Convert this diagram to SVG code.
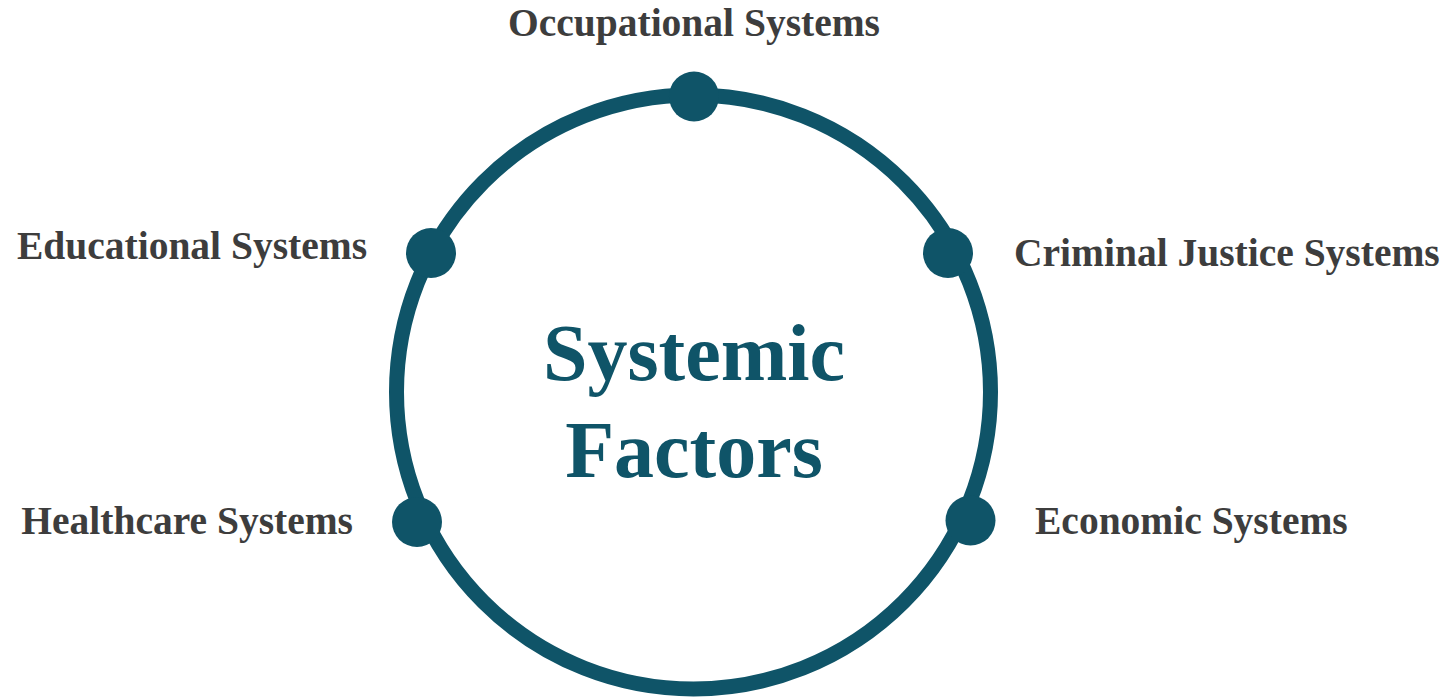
<svg xmlns="http://www.w3.org/2000/svg" width="1455" height="699" viewBox="0 0 1455 699">
<style>
.ring{fill:none;stroke:#0f5468;stroke-width:15}
.dot{fill:#0f5468}
.lbl{font-family:"Liberation Serif","Times New Roman",serif;font-weight:bold;font-size:39.5px;fill:#3d3d3d}
.title{font-family:"Liberation Serif","Times New Roman",serif;font-weight:bold;font-size:80px;fill:#0f5468;text-anchor:middle}
</style>
<rect width="1455" height="699" fill="#ffffff"/>
<g id="connectors">
<circle class="ring" cx="693.5" cy="392" r="297"/>
</g>
<g id="center">
<text class="title" x="694" y="380">Systemic</text>
<text class="title" x="694" y="477">Factors</text>
</g>
<g id="occupational">
<circle class="dot" cx="694" cy="96.5" r="25"/>
<text class="lbl" x="694" y="36" text-anchor="middle">Occupational Systems</text>
</g>
<g id="educational">
<circle class="dot" cx="431" cy="253" r="25"/>
<text class="lbl" x="367" y="259" text-anchor="end">Educational Systems</text>
</g>
<g id="criminal">
<circle class="dot" cx="948" cy="253" r="25"/>
<text class="lbl" x="1014" y="266">Criminal Justice Systems</text>
</g>
<g id="healthcare">
<circle class="dot" cx="417" cy="522" r="25"/>
<text class="lbl" x="353" y="534" text-anchor="end">Healthcare Systems</text>
</g>
<g id="economic">
<circle class="dot" cx="970.5" cy="520.5" r="25"/>
<text class="lbl" x="1035" y="534">Economic Systems</text>
</g>
</svg>
